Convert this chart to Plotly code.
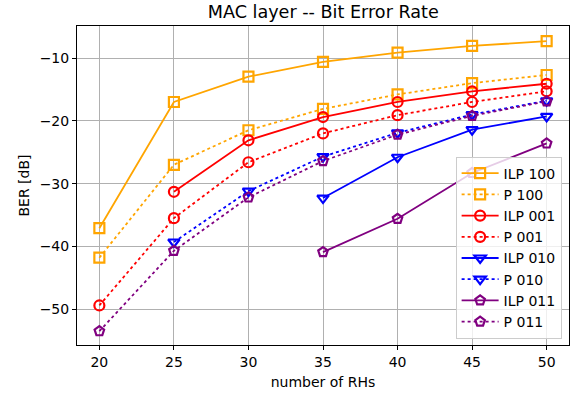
import plotly.graph_objects as go

rhs = [20, 25, 30, 35, 40, 45, 50]

ilp_100 = [-37.1, -17.0, -12.97, -10.6, -9.14, -8.08, -7.3]
p_100 = [-41.8, -27.0, -21.5, -18.1, -15.8, -14.0, -12.7]
ilp_001 = [None, -31.3, -23.1, -19.4, -17.0, -15.3, -14.1]
p_001 = [-49.4, -35.5, -26.6, -22.0, -19.1, -17.0, -15.3]
ilp_010 = [None, None, None, -32.3, -25.8, -21.4, -19.3]
p_010 = [None, -39.3, -31.2, -25.7, -21.9, -19.0, -16.8]
ilp_011 = [None, None, None, -40.9, -35.6, -28.3, -23.6]
p_011 = [-53.5, -40.7, -32.2, -26.4, -22.2, -19.2, -16.9]

series = [
    ("ILP 100", ilp_100, "orange", "solid", "square-open"),
    ("P 100", p_100, "orange", "dot", "square-open"),
    ("ILP 001", ilp_001, "red", "solid", "circle-open"),
    ("P 001", p_001, "red", "dot", "circle-open"),
    ("ILP 010", ilp_010, "blue", "solid", "triangle-down-open"),
    ("P 010", p_010, "blue", "dot", "triangle-down-open"),
    ("ILP 011", ilp_011, "purple", "solid", "pentagon-open"),
    ("P 011", p_011, "purple", "dot", "pentagon-open"),
]

FONT = "DejaVu Sans"

fig = go.Figure()
for name, vals, color, dash, sym in series:
    fig.add_trace(go.Scatter(
        x=rhs, y=vals, name=name, mode="lines+markers",
        line=dict(color=color, width=1.8, dash=dash),
        marker=dict(symbol=sym, size=10, color=color, line=dict(color=color, width=2.2)),
    ))

axis_common = dict(
    showline=True, linecolor="black", linewidth=1, mirror=True,
    showgrid=True, gridcolor="#b0b0b0", gridwidth=0.8,
    ticks="outside", ticklen=4, tickcolor="black", tickwidth=1,
    zeroline=False,
    tickfont=dict(family=FONT, size=14, color="black"),
)

fig.update_layout(
    width=578, height=399,
    margin=dict(l=77, r=9, t=26, b=54),
    paper_bgcolor="white", plot_bgcolor="white",
    font=dict(family=FONT, color="black"),
    title=dict(text="MAC layer -- Bit Error Rate", x=0.5593, xanchor="center",
               y=0.97, yanchor="middle",
               font=dict(family=FONT, size=17.6, color="black")),
    xaxis=dict(range=[18.5, 51.5], tickmode="array", tickvals=rhs,
               title=dict(text="number of RHs", font=dict(family=FONT, size=14), standoff=8),
               **axis_common),
    yaxis=dict(range=[-55.7, -4.9], tickmode="array", tickvals=[-50, -40, -30, -20, -10],
               title=dict(text="BER [dB]", font=dict(family=FONT, size=14), standoff=6),
               **axis_common),
    legend=dict(x=0.985, y=0.02, xanchor="right", yanchor="bottom",
                bgcolor="rgba(255,255,255,0.8)", bordercolor="#cccccc", borderwidth=1,
                font=dict(family=FONT, size=14), tracegroupgap=0, itemwidth=37),
    showlegend=True,
)

fig.write_html("out.html")
